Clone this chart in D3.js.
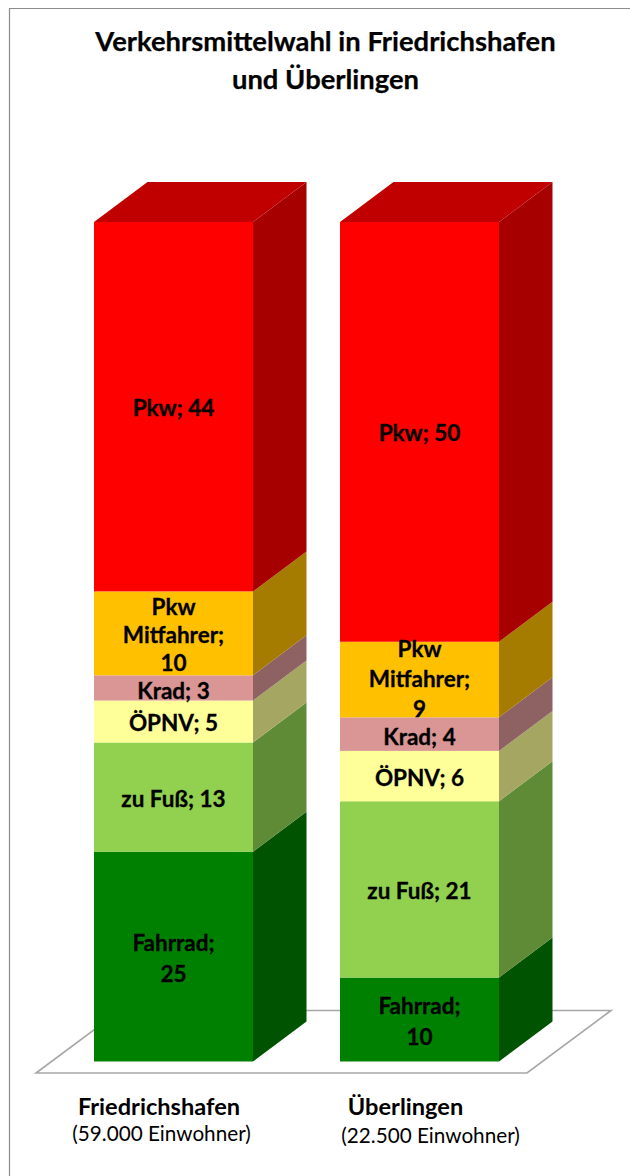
<!DOCTYPE html>
<html><head><meta charset="utf-8">
<script src="https://cdn.jsdelivr.net/npm/d3@7/dist/d3.min.js"></script>
<style>html,body{margin:0;background:#fff}svg{display:block}text{font-family:Lato,"Open Sans",sans-serif;fill:#000}</style>
</head><body><svg id="c" width="630" height="1176"></svg>
<script>
const title = ["Verkehrsmittelwahl in Friedrichshafen", "und Überlingen"];
const cities = ["Friedrichshafen", "Überlingen"];
const citySub = ["(59.000 Einwohner)", "(22.500 Einwohner)"];
const series = ["Fahrrad", "zu Fuß", "ÖPNV", "Krad", "Pkw Mitfahrer", "Pkw"];
const friedrichshafen = [25, 13, 5, 3, 10, 44];
const ueberlingen = [10, 21, 6, 4, 9, 50];
const frontColors = ["#008000", "#92d050", "#ffff99", "#d99694", "#ffc000", "#ff0000"];
const sideColors = ["#005300", "#5f8a36", "#a6a663", "#8e6262", "#a67c00", "#a60000"];
const topColor = "#c00000";
const nameLines = {"Fahrrad":["Fahrrad;"], "Pkw Mitfahrer":["Pkw","Mitfahrer;"]};

const W = 630, H = 1176, dx = 53.5, dy = 40;
const svg = d3.select("#c");
const x = d3.scaleBand().domain(cities).range([94, 499]).paddingInner(87/246);
const y = d3.scaleLinear().domain([0, 100]).range([1061.5, 222]);
const layers = d3.stack().keys(series)(cities.map((c, ci) => {
  const o = {city: c};
  series.forEach((s, i) => o[s] = (ci ? ueberlingen : friedrichshafen)[i]);
  return o;
}));

// frame
svg.append("path").attr("d", `M630,8.5H9.5V1176`).attr("fill", "none").attr("stroke", "#8c8c8c").attr("stroke-width", 1.2);

// floor
const floorFront = 1073, floorBack = 1010.5;
svg.append("path").attr("d", `M36,${floorFront}L527,${floorFront}L611,${floorBack}L120,${floorBack}Z`)
  .attr("fill", "#fff").attr("stroke", "#a6a6a6").attr("stroke-width", 1.6);

// title
svg.append("g").selectAll("text").data(title).join("text")
  .attr("x", 325.5).attr("y", (d, i) => 51 + i * 38)
  .attr("text-anchor", "middle").attr("font-size", 27.4).attr("font-weight", 700)
  .attr("stroke", "#000").attr("stroke-width", 0.25).text(d => d);

// bars
layers.forEach((layer, si) => {
  const g = svg.append("g");
  layer.forEach(d => {
    const c = d.data.city, x0 = x(c), x1 = x0 + x.bandwidth(), yb = y(d[0]), yt = y(d[1]);
    g.append("rect").attr("x", x0).attr("y", yt).attr("width", x1 - x0).attr("height", yb - yt).attr("fill", frontColors[si]);
    g.append("path").attr("d", `M${x1},${yb}L${x1+dx},${yb-dy}L${x1+dx},${yt-dy}L${x1},${yt}Z`).attr("fill", sideColors[si]);
    if (si === series.length - 1)
      g.append("path").attr("d", `M${x0},${yt}L${x1},${yt}L${x1+dx},${yt-dy}L${x0+dx},${yt-dy}Z`).attr("fill", topColor);
  });
});

// data labels
layers.forEach((layer, si) => {
  const name = series[si];
  layer.forEach(d => {
    const c = d.data.city, cx = x(c) + x.bandwidth() / 2, v = d.data[name];
    const lines = nameLines[name] ? [...nameLines[name], String(v)] : [`${name}; ${v}`];
    const isMit = name === "Pkw Mitfahrer";
    const gap = isMit ? (c === cities[0] ? 28 : 30) : 31;
    const shift = isMit ? (c === cities[0] ? 0.5 : -2) : name === "Krad" ? 1.5 : 0;
    const mid = (y(d[0]) + y(d[1])) / 2 + shift;
    lines.forEach((t, i) => {
      svg.append("text").attr("x", cx).attr("y", mid + (i - (lines.length - 1) / 2) * gap + 9.5)
        .attr("text-anchor", "middle").attr("font-size", 22.5).attr("font-weight", 700)
        .attr("stroke", "#000").attr("stroke-width", 0.3).text(t);
    });
  });
});

// category labels
const catX = [159, 405.5], catY = [1115, 1115], subX = [161.5, 430.5], subY = [1141, 1143];
cities.forEach((c, i) => {
  svg.append("text").attr("x", catX[i]).attr("y", catY[i]).attr("text-anchor", "middle")
    .attr("font-size", 23.6).attr("font-weight", 700).text(c);
  svg.append("text").attr("x", subX[i]).attr("y", subY[i]).attr("text-anchor", "middle")
    .attr("font-size", 20.7).attr("fill", "#1a1a1a").text(citySub[i]);
});
</script></body></html>
